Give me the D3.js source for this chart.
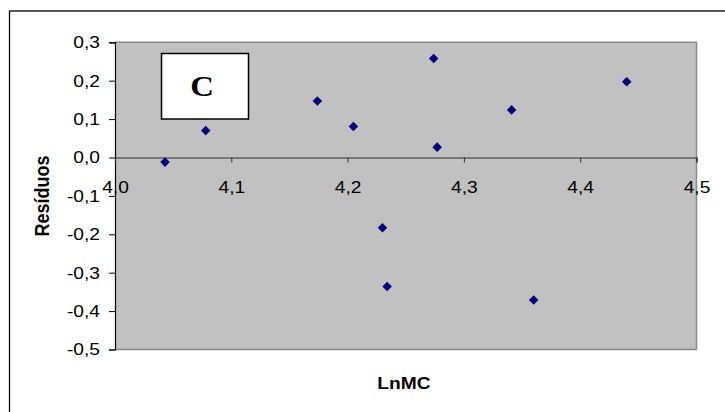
<!DOCTYPE html>
<html><head><meta charset="utf-8">
<script src="https://cdn.jsdelivr.net/npm/d3@7"></script>
<style>body{margin:0;background:#fff;}svg{display:block;}</style>
</head><body>
<svg id="c" width="725" height="412"></svg>
<script>
const lnMC = [4.043, 4.078, 4.174, 4.205, 4.230, 4.234, 4.274, 4.277, 4.341, 4.360, 4.440];
const residuos = [-0.012, 0.070, 0.147, 0.081, -0.183, -0.336, 0.258, 0.027, 0.124, -0.371, 0.197];
const xTicks = [4.0, 4.1, 4.2, 4.3, 4.4, 4.5];
const yTicks = [0.3, 0.2, 0.1, 0.0, -0.1, -0.2, -0.3, -0.4, -0.5];
const xTitle = "LnMC";
const yTitle = "Resíduos";
const panelLabel = "C";

const SX = 1.13; // horizontal stretch of the original picture
const svg = d3.select("#c");
const L = 115, R = 696.5, T = 42.3, B = 349.5;
const x = d3.scaleLinear().domain([4.0, 4.5]).range([L, R]);
const y = d3.scaleLinear().domain([-0.5, 0.3]).range([B, T]);
const fmt = d => d3.format(".1f")(d).replace(".", ",").replace("−", "-");
const SANS = "Liberation Sans, Arial, sans-serif";

// outer frame
svg.append("rect").attr("x", 9.5).attr("y", 11).attr("width", 730).attr("height", 420)
  .attr("fill", "#fff").attr("stroke", "#000").attr("stroke-width", 1.3);

// plot area
svg.append("rect").attr("x", L).attr("y", T).attr("width", R - L).attr("height", B - T)
  .attr("fill", "#c0c0c0");
svg.append("path").attr("d", `M${L},${T}H${R}V${B}H${L}`)
  .attr("fill", "none").attr("stroke", "#8a8a8a").attr("stroke-width", 1.5);

// y axis
const ya = svg.append("g").attr("transform", `translate(${L},0)`)
  .call(d3.axisLeft(y).tickValues(yTicks).tickFormat(fmt).tickSize(6).tickPadding(9));
ya.select(".domain").attr("stroke", "#000").attr("stroke-width", 1.2);
ya.selectAll(".tick line").attr("stroke", "#000");
ya.selectAll("text").attr("font-family", SANS).attr("font-size", 17).attr("fill", "#000")
  .attr("x", 0).attr("transform", `translate(-15,0) scale(${SX},1)`);

// x axis at y = 0
const xa = svg.append("g").attr("transform", `translate(0,${y(0)})`)
  .call(d3.axisBottom(x).tickValues(xTicks).tickFormat(fmt).tickSize(5).tickPadding(18));
xa.select(".domain").attr("stroke", "#333").attr("stroke-width", 1.2);
xa.selectAll(".tick line").attr("stroke", "#333");
xa.selectAll("text").attr("font-family", SANS).attr("font-size", 17).attr("fill", "#000")
  .attr("transform", `scale(${SX},1)`);

// panel label box
svg.append("rect").attr("x", 161.5).attr("y", 53.5).attr("width", 87).attr("height", 65.5)
  .attr("fill", "#fff").attr("stroke", "#000").attr("stroke-width", 1.5);
svg.append("text").attr("transform", `translate(202,96) scale(${SX},1)`).attr("text-anchor", "middle")
  .attr("font-family", "Liberation Serif, Times New Roman, serif").attr("font-weight", "bold")
  .attr("font-size", 29).text(panelLabel);

// points
const diamond = d3.symbol().type(d3.symbolDiamond2).size(58);
svg.append("g").selectAll("path").data(lnMC.map((v, i) => [v, residuos[i]])).join("path")
  .attr("d", diamond)
  .attr("transform", d => `translate(${x(d[0])},${y(d[1])})`)
  .attr("fill", "#000080");

// titles
svg.append("text").attr("transform", `translate(404,389) scale(${SX},1)`).attr("text-anchor", "middle")
  .attr("font-family", SANS).attr("font-weight", "bold").attr("font-size", 17).text(xTitle);
svg.append("text").attr("transform", `translate(49,196) scale(${SX},1) rotate(-90)`).attr("text-anchor", "middle")
  .attr("font-family", SANS).attr("font-weight", "bold").attr("font-size", 18).text(yTitle);
</script>
</body></html>
